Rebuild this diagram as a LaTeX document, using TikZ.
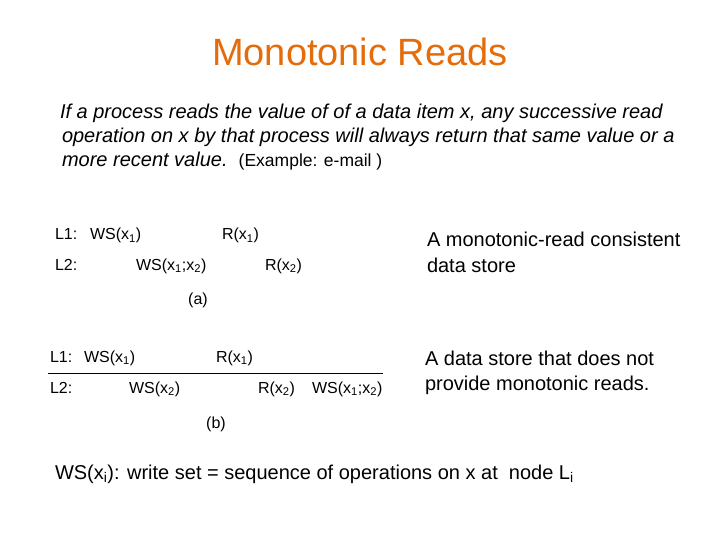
\documentclass[tikz,border=0pt]{standalone}
\usepackage{fontspec}
\setmainfont{Liberation Sans}
\definecolor{titleorange}{RGB}{228,108,10}
\begin{document}
\begin{tikzpicture}[x=1pt,y=-1pt,
  every node/.style={inner sep=0pt,outer sep=0pt,anchor=base west},
  titlestyle/.style={font=\fontsize{38}{44}\selectfont,text=titleorange,anchor=base},
  parastyle/.style={font=\fontsize{20}{24}\selectfont\itshape},
  diag/.style={font=\fontsize{16}{19}\selectfont},
  side/.style={font=\fontsize{20}{24}\selectfont},
  ]
\useasboundingbox (0,0) rectangle (720,540);
\node[titlestyle] (title) at (360,66) {Monotonic Reads};
\node[parastyle] (p1) at (60,119) {If a process reads the value of of a data item x, any successive read};
\node[parastyle] (p2) at (62,143) {operation on x by that process will always return that same value or a};
\node[parastyle] (p3) at (62,167) {more recent value.\ \ {\upshape\fontsize{17.5}{21}\selectfont (Example: e-mail )}};
% diagram (a)
\node[diag] (aL1) at (55,240) {L1:};
\node[diag] (aW1) at (90,240) {WS(x\textsubscript{1})};
\node[diag] (aR1) at (222,240) {R(x\textsubscript{1})};
\node[diag] (aL2) at (55,270) {L2:};
\node[diag] (aW12) at (136,270) {WS(x\textsubscript{1};x\textsubscript{2})};
\node[diag] (aR2) at (265,270) {R(x\textsubscript{2})};
\node[diag,anchor=base] (acap) at (198,304) {(a)};
\node[side] (s1) at (427,247) {A monotonic-read consistent};
\node[side] (s2) at (427,272) {data store};
% diagram (b)
\node[diag] (bL1) at (50,362) {L1:};
\node[diag] (bW1) at (84,362) {WS(x\textsubscript{1})};
\node[diag] (bR1) at (216,362) {R(x\textsubscript{1})};
\coordinate (lineA) at (48,373);
\coordinate (lineB) at (383,373);
\draw[line width=0.8pt] (lineA) -- (lineB);
\node[diag] (bL2) at (50,393) {L2:};
\node[diag] (bW2) at (129,393) {WS(x\textsubscript{2})};
\node[diag] (bR2) at (258,393) {R(x\textsubscript{2})};
\node[diag] (bW12) at (312,393) {WS(x\textsubscript{1};x\textsubscript{2})};
\node[diag,anchor=base] (bcap) at (216,428) {(b)};
\node[side] (t1) at (425,365) {A data store that does not};
\node[side] (t2) at (425,390) {provide monotonic reads.};
% bottom
\node[side] (foot) at (55,479) {WS(x\textsubscript{i}): write set = sequence of operations on x at\ \ node L\textsubscript{i}};
\end{tikzpicture}
\end{document}
